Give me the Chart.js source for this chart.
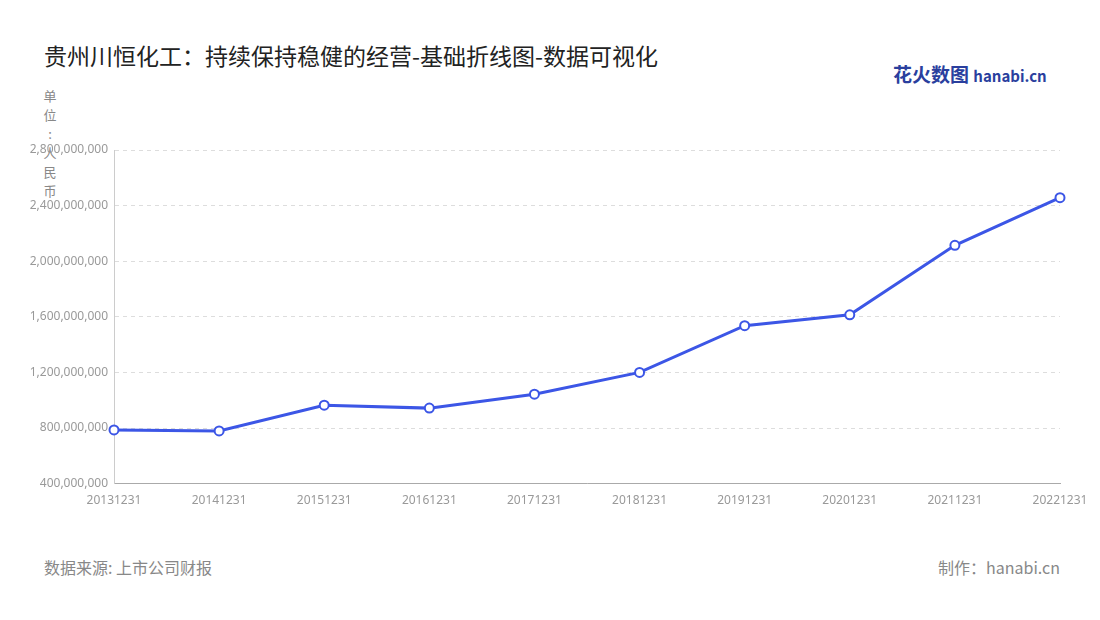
<!DOCTYPE html>
<html><head><meta charset="utf-8">
<script src="https://cdn.jsdelivr.net/npm/chart.js@4"></script>
<style>
body{margin:0;width:1100px;height:620px;background:#fff;font-family:"Noto Sans CJK SC","Noto Sans",sans-serif;position:relative;overflow:hidden}
#c{position:absolute;left:0;top:0}
.t{position:absolute;left:44px;top:38px;font-size:23px;color:#222}
.u{position:absolute;left:43px;top:86px;font-size:13px;color:#888;width:14px;line-height:19px;text-align:center}
.f{position:absolute;top:555px;font-size:16px;color:#888}
.logo{position:absolute;left:893px;top:60px;font-size:19px;font-weight:bold;color:#2a3f9e}
</style></head><body>
<div class="t">贵州川恒化工：持续保持稳健的经营-基础折线图-数据可视化</div>
<div class="logo">花火数图 <span style="font-size:15px">hanabi.cn</span></div>
<div class="u">单<br>位<br>:<br>人<br>民<br>币</div>
<div class="f" style="left:44px">数据来源: 上市公司财报</div>
<div class="f" style="right:40px">制作：hanabi.cn</div>
<canvas id="c" width="1100" height="620"></canvas>
<script>
const categories=["20131231","20141231","20151231","20161231","20171231","20181231","20191231","20201231","20211231","20221231"];
const values=[786000000,779000000,964000000,943000000,1043000000,1200000000,1536000000,1614000000,2114000000,2457000000];
const c=document.getElementById('c');
c.style.width='1100px';c.style.height='620px';
Chart.defaults.font.family='"Noto Sans","Noto Sans CJK SC",sans-serif';
new Chart(c,{type:'line',data:{labels:categories,datasets:[{data:values,borderColor:'#3c56e6',borderWidth:3,pointRadius:4.5,pointBackgroundColor:'#fff',pointBorderColor:'#3c56e6',pointBorderWidth:2,tension:0}]},
options:{responsive:false,animation:false,devicePixelRatio:1,plugins:{legend:{display:false},tooltip:{enabled:false}},
layout:{padding:{left:0,right:40,top:150,bottom:110}},
scales:{x:{offset:false,grid:{display:false},border:{color:'#aaa'},ticks:{color:'#999',font:{size:12},maxRotation:0,autoSkip:false,padding:2}},
y:{min:400000000,max:2800000000,afterFit:a=>{a.width=114},border:{display:true,color:'#ccc',dash:[4,4]},grid:{color:'#ddd',drawTicks:false},
ticks:{stepSize:400000000,color:'#999',font:{size:12},padding:6,callback:v=>v.toLocaleString('en-US')}}}}});
</script></body></html>
